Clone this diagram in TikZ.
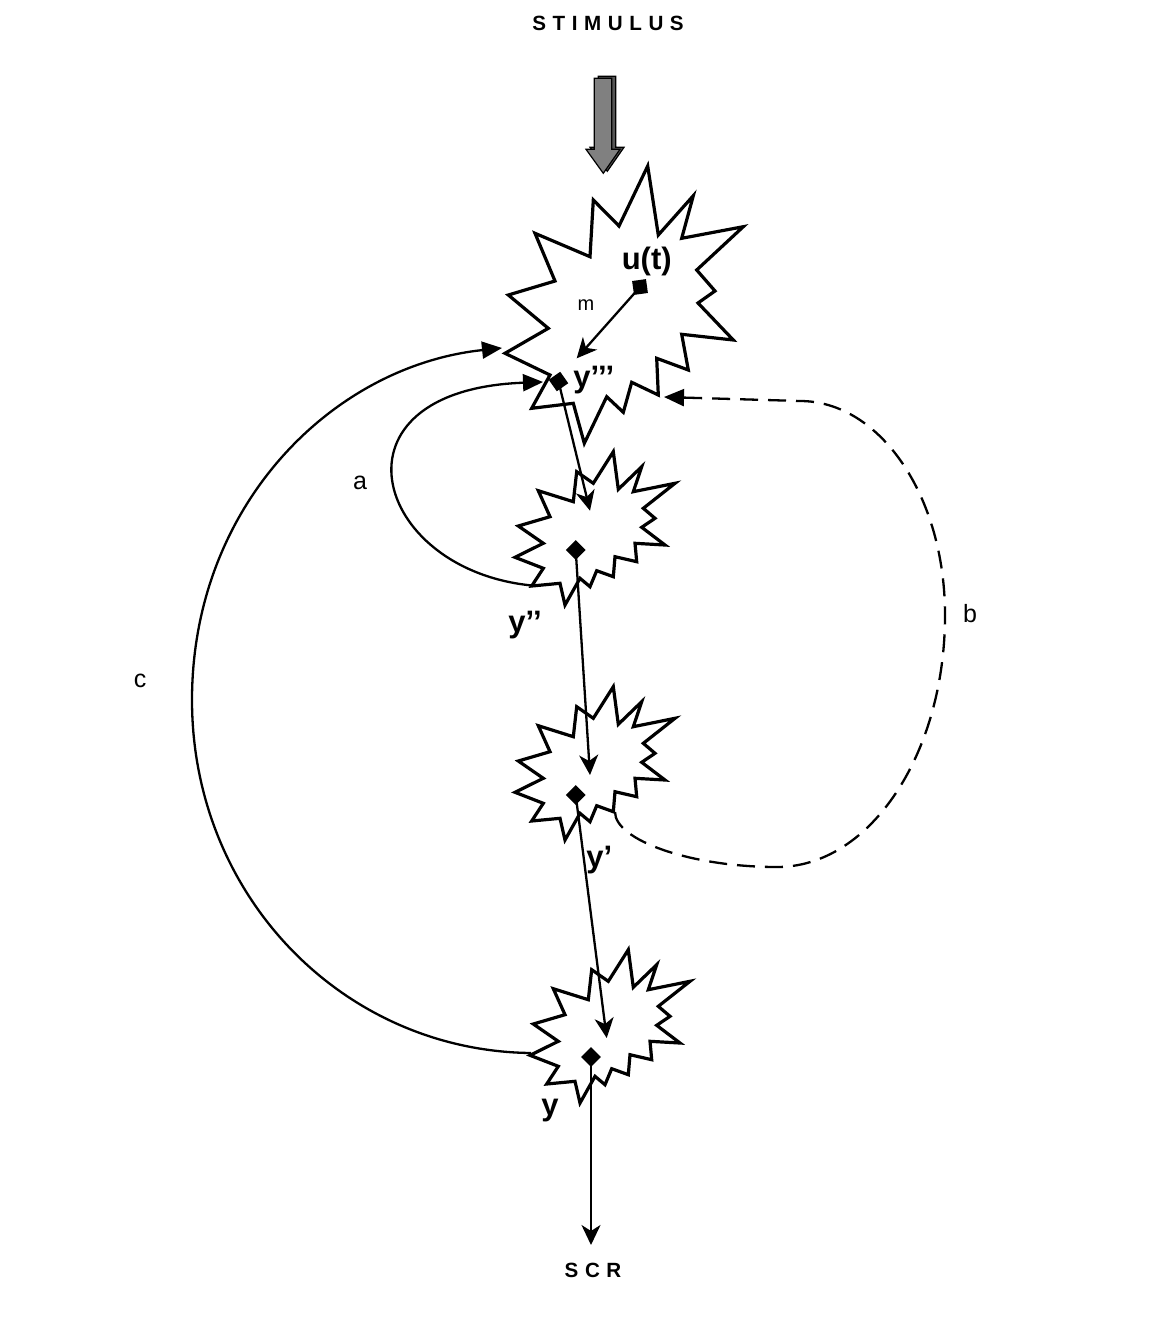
\documentclass[tikz,border=0pt]{standalone}
\usepackage{fontspec}
\setmainfont{Liberation Sans}
\usetikzlibrary{arrows.meta}
\definecolor{arrowgray}{HTML}{808080}
\definecolor{arrowdark}{HTML}{555555}
\begin{document}
\begin{tikzpicture}[x=0.5pt,y=-0.5pt,
  starline/.style={line width=1.6pt, line join=miter, fill=white},
  conn/.style={line width=1.15pt},
  vtip/.style={-{Stealth[length=10pt,width=9.5pt,inset=3pt]}},
  ctip/.style={-{Triangle[length=10pt,width=8.5pt]}},
  dashconn/.style={line width=1.15pt, dash pattern=on 9pt off 5pt},
  lbl/.style={font={\fontsize{15.5}{18}\selectfont\bfseries}, inner sep=0pt},
  sm/.style={font={\fontsize{12.5}{15}\selectfont}, inner sep=0pt},
  msm/.style={font={\fontsize{10}{12}\selectfont}, inner sep=0pt},
  title/.style={font={\fontsize{10.3}{12}\selectfont\bfseries\addfontfeatures{LetterSpace=32}}, inner sep=0pt},
  dmark/.style={fill=black, inner sep=0pt, minimum size=7pt, rectangle}]
\useasboundingbox (0,0) rectangle (1156,1333);

% stimulus block arrow
\draw[fill=arrowdark, line width=0.6pt, shift={(4,-2)}]
  (594.3,78.3) -- (611.7,78.3) -- (611.7,149.3) -- (620,149.3) -- (603.3,173.3) -- (586,149.3) -- (594.3,149.3) -- cycle;
\draw[fill=arrowgray, line width=0.6pt]
  (594.3,78.3) -- (611.7,78.3) -- (611.7,149.3) -- (620,149.3) -- (603.3,173.3) -- (586,149.3) -- (594.3,149.3) -- cycle;

% big star
\draw[starline]
  (647.7,166) -- (658.3,235) -- (693.3,195.7) -- (681.7,238.3) -- (743.3,226.7) -- (696.7,270) -- (715,291) -- (698,303) -- (733.3,340) -- (681.7,334.3) -- (688.3,370) -- (656.7,358.3) -- (658.3,395) -- (631.7,382.3) -- (623.3,412.3) -- (606.7,396.7) -- (584.3,443.3) -- (573.3,403.3) -- (531.7,408.3) -- (550,375) -- (505,353.3) -- (548.3,328.3) -- (508.3,295) -- (555,281) -- (535,233.3) -- (590,256.7) -- (593.3,200) -- (619,226) -- cycle;

% small stars
\foreach \dx/\dy in {0/0, 0/235, 15/498} {
  \draw[starline, shift={(\dx,\dy)}]
    (613.3,451.7) -- (618.3,489.3) -- (641.7,466.7) -- (633.3,491.7) -- (675,483.3) -- (643.3,508.3) -- (655,518.3) -- (641.7,527.3) -- (665,545) -- (635,543.3) -- (636.7,561.7) -- (615,556.7) -- (613.3,576.7) -- (596.7,570.7) -- (590,586.7) -- (580,578.3) -- (565,605) -- (560,583.3) -- (531.7,586) -- (543.3,568.3) -- (515,557.3) -- (543.3,543.3) -- (518.3,526) -- (550,516.7) -- (538.3,490.7) -- (573.3,501.7) -- (576.7,471.7) -- (593.3,483.3) -- cycle;
}

% markers
\node[dmark, minimum size=7pt, rotate=8] (ut) at (640,287) {};
\node[dmark, rotate=35] (y3) at (558.5,381.5) {};
\node[dmark, rotate=45] (d1) at (575.7,550) {};
\node[dmark, rotate=45] (d2) at (575.7,795) {};
\node[dmark, rotate=45] (d3) at (591,1057) {};

% arrow end points
\coordinate (mt) at (576.7,358.3);
\coordinate (t1) at (590,510.7);
\coordinate (t2) at (590,775);
\coordinate (t3) at (606.7,1038);
\coordinate (t4) at (591,1245);
\coordinate (as) at (532,585.5);
\coordinate (ae) at (543,382);
\coordinate (cs) at (531,1053);
\coordinate (ce) at (502,348);
\coordinate (bs) at (615,812);
\coordinate (be) at (664,397);

% straight connectors
\draw[conn,vtip] (ut.center) -- (mt);
\draw[conn,vtip] (y3.center) -- (t1);
\draw[conn,vtip] (d1.center) -- (t2);
\draw[conn,vtip] (d2.center) -- (t3);
\draw[conn,vtip] (d3.center) -- (t4);

% feedback loops
\draw[conn,ctip] (as) .. controls (372,570) and (322,390) .. (ae);
\draw[conn,ctip] (cs) .. controls (343,1051) and (192,896) .. (192,700)
  .. controls (192,506) and (332,366) .. (ce);
\draw[dashconn,ctip] (bs) .. controls (615,840) and (690,867) .. (777,867)
  .. controls (870,867) and (945,754) .. (945,615)
  .. controls (945,496) and (880,401) .. (800,401) -- (be);

% labels
\node[title] (stim) at (608,23.5) {STIMULUS};
\node[title] (scr) at (593,1270) {SCR};
\node[lbl] (utl) at (646.7,261.7) {u(t)};
\node[msm] (ml) at (586,305) {m};
\node[lbl, anchor=base west] (l3) at (573,387) {y’’’};
\node[lbl, anchor=base west] (l2) at (508,632) {y’’};
\node[lbl, anchor=base west] (l1) at (586,867) {y’};
\node[lbl, anchor=base west] (l0) at (541,1115) {y};
\node[sm] (la) at (360,483) {a};
\node[sm] (lb) at (970,614) {b};
\node[sm] (lc) at (140,681) {c};
\end{tikzpicture}
\end{document}
